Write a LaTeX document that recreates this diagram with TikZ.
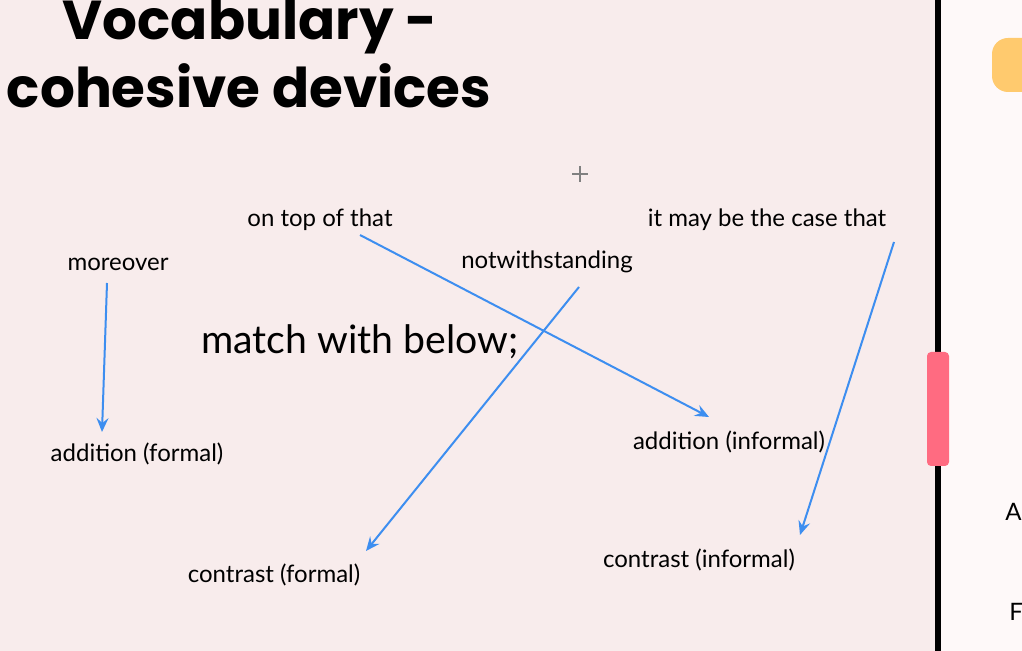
\documentclass[tikz,border=0pt]{standalone}
\usepackage{fontspec}
\setmainfont{Lato}
\newfontfamily\titlefont{Poppins}
\usetikzlibrary{arrows.meta,calc,positioning}
\definecolor{pagebg}{HTML}{F8ECEC}
\definecolor{sidebg}{HTML}{FEF9F9}
\definecolor{linkblue}{HTML}{3D8EF0}
\definecolor{handlered}{HTML}{FF6B81}
\definecolor{tagorange}{HTML}{FFCA6E}
\tikzset{
  word/.style={inner sep=0pt,font=\fontsize{12}{14}\selectfont,text=black},
  headline/.style={anchor=base,inner sep=0pt,font=\titlefont\bfseries\fontsize{27.4}{33}\selectfont},
  link/.style={draw=linkblue,line width=1pt,-{Stealth[length=7pt,width=6pt,inset=2.5pt]}},
}
\begin{document}
\begin{tikzpicture}[x=0.5pt,y=-0.5pt]
  \useasboundingbox (0,0) rectangle (1022,651);
  \fill[pagebg] (0,0) rectangle (938,651);
  \fill[sidebg] (938,0) rectangle (1022,651);
  \fill[black] (935,0) rectangle (941,651);
  \fill[handlered,rounded corners=2pt] (927,352) rectangle (949,466);
  \fill[tagorange,rounded corners=8pt] (992,38) rectangle (1040,92);
  \draw[gray,line width=0.6pt] (572,174) -- (588,174) (580,166) -- (580,182);
  \node[headline] (title1) at (250,40) {Vocabulary -};
  \node[headline] (title2) at (249,108) {cohesive devices};
  \node[word] (ontop) at (320,220) {on top of that};
  \node[word] (moreover) at (118,264) {moreover};
  \node[word] (notw) at (547,262) {notwithstanding};
  \node[word] (itmay) at (767,220) {it may be the case that};
  \node[word,font=\fontsize{19.6}{23}\selectfont] (match) at (360,342) {match with below;};
  \node[word] (addf) at (137,454) {addition (formal)};
  \node[word] (addi) at (729,442) {addition (informal)};
  \node[word] (conf) at (274,575) {contrast (formal)};
  \node[word] (coni) at (699,560) {contrast (informal)};
  \node[word,anchor=west] (sidea) at (1005,512) {A};
  \node[word,anchor=west] (sidef) at (1009,612) {F};
  \draw[link] ($(moreover)+(-11,19)$) -- ($(addf)+(-35,-22)$);
  \draw[link] ($(ontop)+(40,15)$) -- ($(addi)+(-20,-25)$);
  \draw[link] ($(notw)+(32,25)$) -- ($(conf)+(92,-24)$);
  \draw[link] ($(itmay)+(127,22)$) -- ($(coni)+(101,-25)$);
\end{tikzpicture}
\end{document}
